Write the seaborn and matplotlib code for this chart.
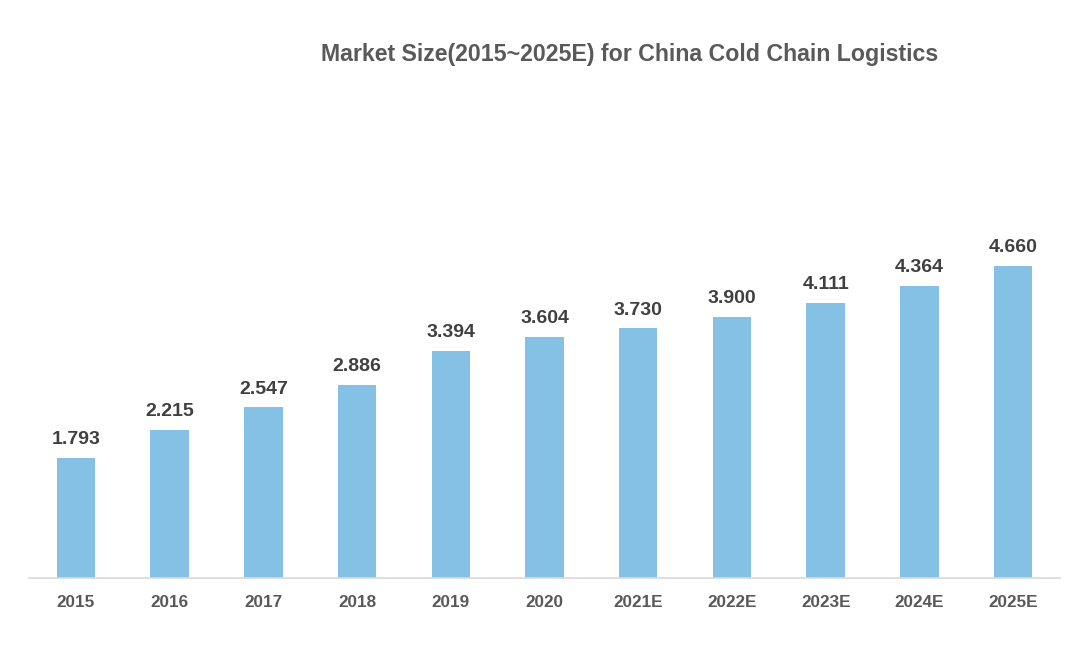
import matplotlib
matplotlib.use("Agg")
import matplotlib.pyplot as plt
import seaborn as sns
import pandas as pd

years = ["2015", "2016", "2017", "2018", "2019", "2020", "2021E", "2022E", "2023E", "2024E", "2025E"]
values = [1.793, 2.215, 2.547, 2.886, 3.394, 3.604, 3.730, 3.900, 4.111, 4.364, 4.660]
labels = ["1.793", "2.215", "2.547", "2.886", "3.394", "3.604", "3.730", "3.900", "4.111", "4.364", "4.660"]

sns.set_theme(style="white")
plt.rcParams['font.family'] = ['Liberation Sans', 'DejaVu Sans']

df = pd.DataFrame({"year": years, "value": values})

fig = plt.figure(figsize=(10.88, 6.48), dpi=100)
ax = fig.add_axes([29/1088, 1 - 578/648, (1060 - 29)/1088, 402/648])
sns.barplot(data=df, x="year", y="value", color="#85C0E5", width=0.41, saturation=1,
            linewidth=0, ax=ax)
ax.set_ylim(0, 6)
ax.set_xlim(-0.5, 10.5)
for i, (v, t) in enumerate(zip(values, labels)):
    ax.text(i, v + 0.14, t, ha="center", va="bottom", fontsize=14, fontweight="bold", color="#404040")
ax.set_xlabel("")
ax.set_ylabel("")
ax.set_yticks([])
for s in ["left", "right", "top"]:
    ax.spines[s].set_visible(False)
ax.spines["bottom"].set_color("#D9D9D9")
ax.spines["bottom"].set_linewidth(1.2)
ax.tick_params(axis="x", length=0, pad=12)
for lab in ax.get_xticklabels():
    lab.set_fontsize(12.3)
    lab.set_fontweight("bold")
    lab.set_color("#595959")
fig.text(630/1088, 1 - 55/648, "Market Size(2015~2025E) for China Cold Chain Logistics",
         ha="center", va="center", fontsize=16.7, fontweight="bold", color="#595959")
fig.savefig("out.png", dpi=100)
